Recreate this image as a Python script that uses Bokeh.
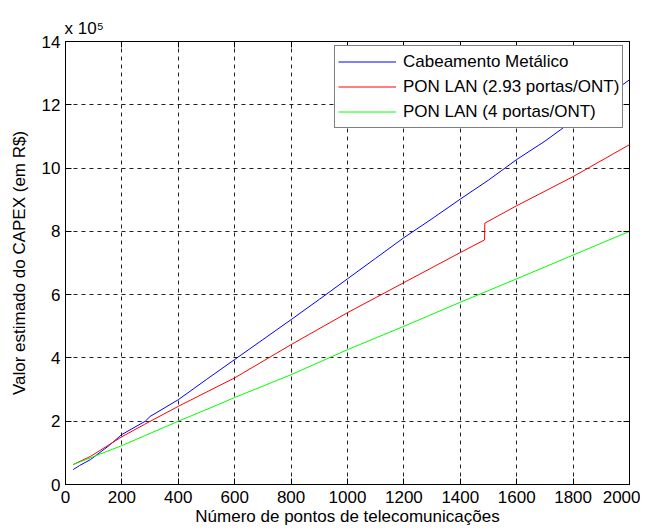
from bokeh.plotting import figure
from bokeh.models import Legend, LegendItem, LinearAxis, FixedTicker, Range1d, Title
from bokeh.embed import file_html
from bokeh.resources import INLINE

# values in units of 10^5 R$
blue_x = [27, 50, 89, 150, 200, 283, 300, 400, 500, 600, 700, 800, 900, 1000,
          1100, 1200, 1300, 1400, 1500, 1600, 1700, 1800, 1900, 2000]
blue_y = [0.47, 0.60, 0.79, 1.20, 1.58, 2.00, 2.15, 2.68, 3.32, 3.95, 4.58, 5.21, 5.85, 6.50,
          7.15, 7.80, 8.40, 9.02, 9.62, 10.27, 10.85, 11.50, 12.15, 12.79]

red_x = [27, 89, 200, 280, 400, 600, 800, 1000, 1200, 1400, 1486, 1487, 1600, 1800, 2000]
red_y = [0.63, 0.89, 1.51, 1.90, 2.47, 3.37, 4.42, 5.43, 6.38, 7.33, 7.73, 8.26, 8.81, 9.73, 10.74]

green_x = [27, 200, 400, 540, 600, 800, 1000, 1200, 1400, 1600, 1800, 2000]
green_y = [0.63, 1.23, 2.00, 2.52, 2.75, 3.47, 4.26, 5.00, 5.76, 6.50, 7.25, 8.00]

x_ticks = [0, 200, 400, 600, 800, 1000, 1200, 1400, 1600, 1800, 2000]
y_ticks = [0, 2, 4, 6, 8, 10, 12, 14]

labels = ["Cabeamento Metálico", "PON LAN (2.93 portas/ONT)", "PON LAN (4 portas/ONT)"]
exponent_text = "x 10\u2075"

FONT = "Liberation Sans"

p = figure(frame_width=564, frame_height=443, output_backend="svg", toolbar_location=None,
           x_range=Range1d(0, 2000), y_range=Range1d(0, 14),
           min_border_left=65, min_border_top=41, min_border_right=11, min_border_bottom=46,
           background_fill_color="white", border_fill_color="white")
p.outline_line_color = "black"
p.outline_line_width = 1

r1 = p.line(blue_x, blue_y, line_color="#0000FF", line_width=1)
r2 = p.line(red_x, red_y, line_color="#FF0000", line_width=1)
r3 = p.line(green_x, green_y, line_color="#00FF00", line_width=1)

for ax, ticks in ((p.xaxis[0], x_ticks), (p.yaxis[0], y_ticks)):
    ax.ticker = FixedTicker(ticks=ticks)
    ax.major_tick_in = 6
    ax.major_tick_out = 0
    ax.minor_tick_line_color = None
    ax.axis_line_color = "black"
    ax.major_tick_line_color = "black"
    ax.major_label_text_font = FONT
    ax.major_label_text_font_size = "17px"
    ax.major_label_text_color = "black"
    ax.axis_label_text_font = FONT
    ax.axis_label_text_font_size = "17px"
    ax.axis_label_text_font_style = "normal"
    ax.axis_label_text_color = "black"

p.xaxis[0].axis_label = "Número de pontos de telecomunicações"
p.yaxis[0].axis_label = "Valor estimado do CAPEX (em R$)"
p.xaxis[0].major_label_standoff = 6
p.xaxis[0].axis_label_standoff = 1
p.yaxis[0].major_label_standoff = 5
p.yaxis[0].axis_label_standoff = 10

for loc, ticks in (("above", x_ticks), ("right", y_ticks)):
    ax = LinearAxis(ticker=FixedTicker(ticks=ticks), major_tick_in=6, major_tick_out=0,
                    minor_tick_line_color=None, axis_line_color=None,
                    major_label_text_font_size="0px", major_label_standoff=0)
    p.add_layout(ax, loc)

p.xgrid.ticker = FixedTicker(ticks=x_ticks)
p.ygrid.ticker = FixedTicker(ticks=y_ticks)
p.grid.grid_line_color = "#222222"
p.grid.grid_line_dash = "4 4"
p.grid.grid_line_width = 1

legend = Legend(items=[LegendItem(label=labels[0], renderers=[r1]),
                       LegendItem(label=labels[1], renderers=[r2]),
                       LegendItem(label=labels[2], renderers=[r3])],
                location=(269, 356))
legend.border_line_color = "black"
legend.border_line_width = 1
legend.background_fill_color = "white"
legend.background_fill_alpha = 1
legend.label_text_font = FONT
legend.label_text_font_size = "17px"
legend.label_text_color = "black"
legend.padding = 3
legend.spacing = 0
legend.label_height = 25
legend.glyph_height = 25
legend.glyph_width = 58
legend.label_standoff = 7
legend.margin = 0
p.add_layout(legend, "center")

title = Title(text=exponent_text, align="left", offset=-1, text_font=FONT,
              text_font_size="17px", text_font_style="normal", text_color="black",
              standoff=8)
p.add_layout(title, "above")

open("out.html", "w").write(file_html(p, INLINE))
